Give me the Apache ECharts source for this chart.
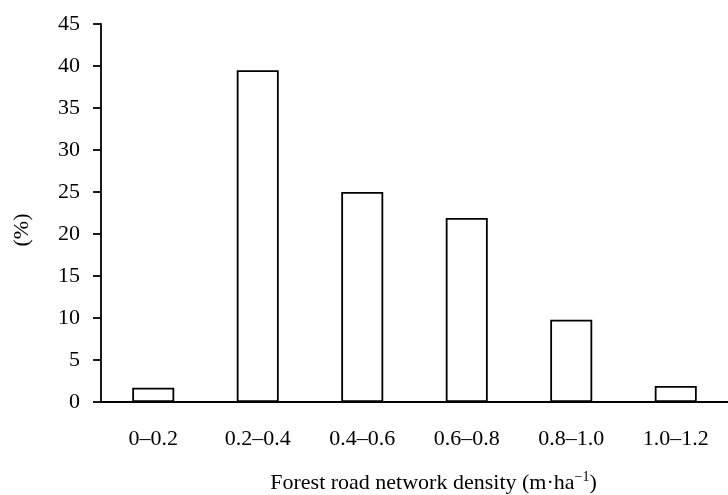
<!DOCTYPE html>
<html>
<head>
<meta charset="utf-8">
<script src="https://cdn.jsdelivr.net/npm/echarts@6/dist/echarts.min.js"></script>
<style>
  html, body { margin: 0; padding: 0; background: #fff; }
  #chart { width: 728px; height: 495px; }
</style>
</head>
<body>
<div id="chart"></div>
<script>
// density classes (m·ha-1) and share of area (%)
const categories = ['0–0.2', '0.2–0.4', '0.4–0.6', '0.6–0.8', '0.8–1.0', '1.0–1.2']
const shares = [1.7, 39.5, 25, 21.9, 9.8, 1.9]

const font = 'Liberation Serif, Times New Roman, serif'
const chart = echarts.init(document.getElementById('chart'))

chart.setOption({
  animation: false,
  grid: { left: 101, top: 24, width: 627, bottom: 93, outerBoundsMode: 'none' },
  xAxis: {
    type: 'category',
    data: categories,
    name: 'Forest road network density (m·ha{sup|−1})',
    nameLocation: 'middle',
    nameGap: 68,
    nameTextStyle: {
      fontFamily: font, fontSize: 22, color: '#000',
      padding: [0, 0, 0, 38],
      rich: {
        sup: { fontFamily: font, fontSize: 14, color: '#000', verticalAlign: 'top', padding: [0, 0, 12, 0] }
      }
    },
    axisLine: { lineStyle: { color: '#000', width: 1.8 } },
    axisTick: { length: 8, lineStyle: { color: '#000', width: 1.8 } },
    axisLabel: { fontFamily: font, fontSize: 22, color: '#000', margin: 26 }
  },
  yAxis: {
    type: 'value',
    min: 0,
    max: 45,
    interval: 5,
    name: '(%)',
    nameLocation: 'middle',
    nameGap: 68,
    nameTextStyle: { fontFamily: font, fontSize: 22, color: '#000', padding: [0, 34, 0, 0] },
    splitLine: { show: false },
    axisLine: { show: true, lineStyle: { color: '#000', width: 1.8 } },
    axisTick: { show: true, length: 8, lineStyle: { color: '#000', width: 1.8 } },
    axisLabel: { fontFamily: font, fontSize: 22, color: '#000', margin: 21 }
  },
  series: [{
    type: 'bar',
    data: shares,
    barWidth: 42,
    itemStyle: { color: '#fff', borderColor: '#000', borderWidth: 1.8 }
  }]
})
</script>
</body>
</html>
